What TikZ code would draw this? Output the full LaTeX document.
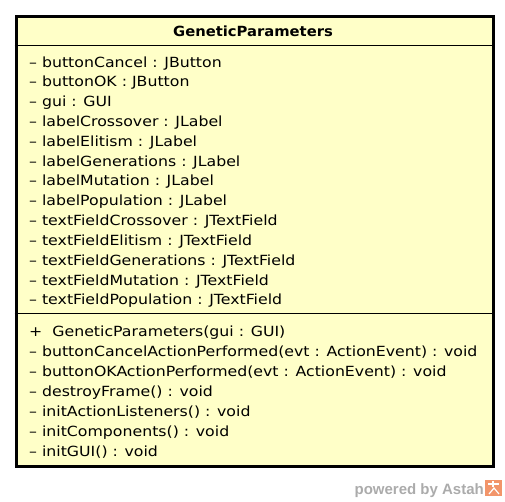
\documentclass[tikz,border=0pt]{standalone}
\usepackage{fontspec}
\setmainfont{DejaVu Sans}
\newfontfamily\wmfont{Liberation Sans}
\definecolor{classfill}{HTML}{FFFFC8}
\definecolor{wmgray}{HTML}{ABABAB}
\definecolor{wmorange}{HTML}{F2956A}
\newcommand{\mtxt}[1]{\scalebox{1.125}[1]{#1}}
\newcommand{\ttxt}[1]{\scalebox{1.055}[1]{#1}}
\begin{document}
\begin{tikzpicture}[x=1pt,y=-1pt,
  member/.style={anchor=base west,inner sep=0pt,font=\fontsize{14}{16}\selectfont},
  title/.style={anchor=base,inner sep=0pt,font=\bfseries\fontsize{14}{16}\selectfont}]
\useasboundingbox (0,0) rectangle (505,501);
\node[draw=black,line width=3pt,fill=classfill,minimum width=477pt,minimum height=450pt,anchor=north west,inner sep=0pt] (cls) at (14.5,14.5) {};
\draw[line width=1pt] (14.5,45) coordinate (h1) -- (491.5,45) coordinate (h2);
\draw[line width=1pt] (14.5,313) coordinate (s1) -- (491.5,313) coordinate (s2);
\node[title] (t) at (253,36) {\ttxt{GeneticParameters}};
\foreach \i/\txt in {0/{– buttonCancel : JButton},1/{– buttonOK : JButton},2/{– gui : GUI},3/{– labelCrossover : JLabel},4/{– labelElitism : JLabel},5/{– labelGenerations : JLabel},6/{– labelMutation : JLabel},7/{– labelPopulation : JLabel},8/{– textFieldCrossover : JTextField},9/{– textFieldElitism : JTextField},10/{– textFieldGenerations : JTextField},11/{– textFieldMutation : JTextField},12/{– textFieldPopulation : JTextField}}
  \node[member] (a\i) at (29,67+19.83*\i) {\mtxt{\txt}};
\foreach \i/\txt in {0/{+ \ GeneticParameters(gui : GUI)},1/{– buttonCancelActionPerformed(evt : ActionEvent) : void},2/{– buttonOKActionPerformed(evt : ActionEvent) : void},3/{– destroyFrame() : void},4/{– initActionListeners() : void},5/{– initComponents() : void},6/{– initGUI() : void}}
  \node[member] (m\i) at (29,336+20*\i) {\mtxt{\txt}};
\node[anchor=base east,inner sep=0pt,text=wmgray,font=\wmfont\bfseries\fontsize{15}{17}\selectfont] (wm) at (484,494.5) {powered by Astah};
\node[fill=wmorange,minimum width=17pt,minimum height=16pt,inner sep=0pt,anchor=north west] (logo) at (485,480) {};
\draw[white,line width=1.2pt] ([shift={(3,4)}]logo.north west) -- ([shift={(-3,4)}]logo.north east);
\draw[white,line width=1.2pt] ([shift={(8,1)}]logo.north west) -- ([shift={(8,7)}]logo.north west);
\draw[white,line width=1.2pt] ([shift={(4,14)}]logo.north west) -- ([shift={(9,8)}]logo.north west) -- ([shift={(14,14)}]logo.north west);
\end{tikzpicture}
\end{document}
